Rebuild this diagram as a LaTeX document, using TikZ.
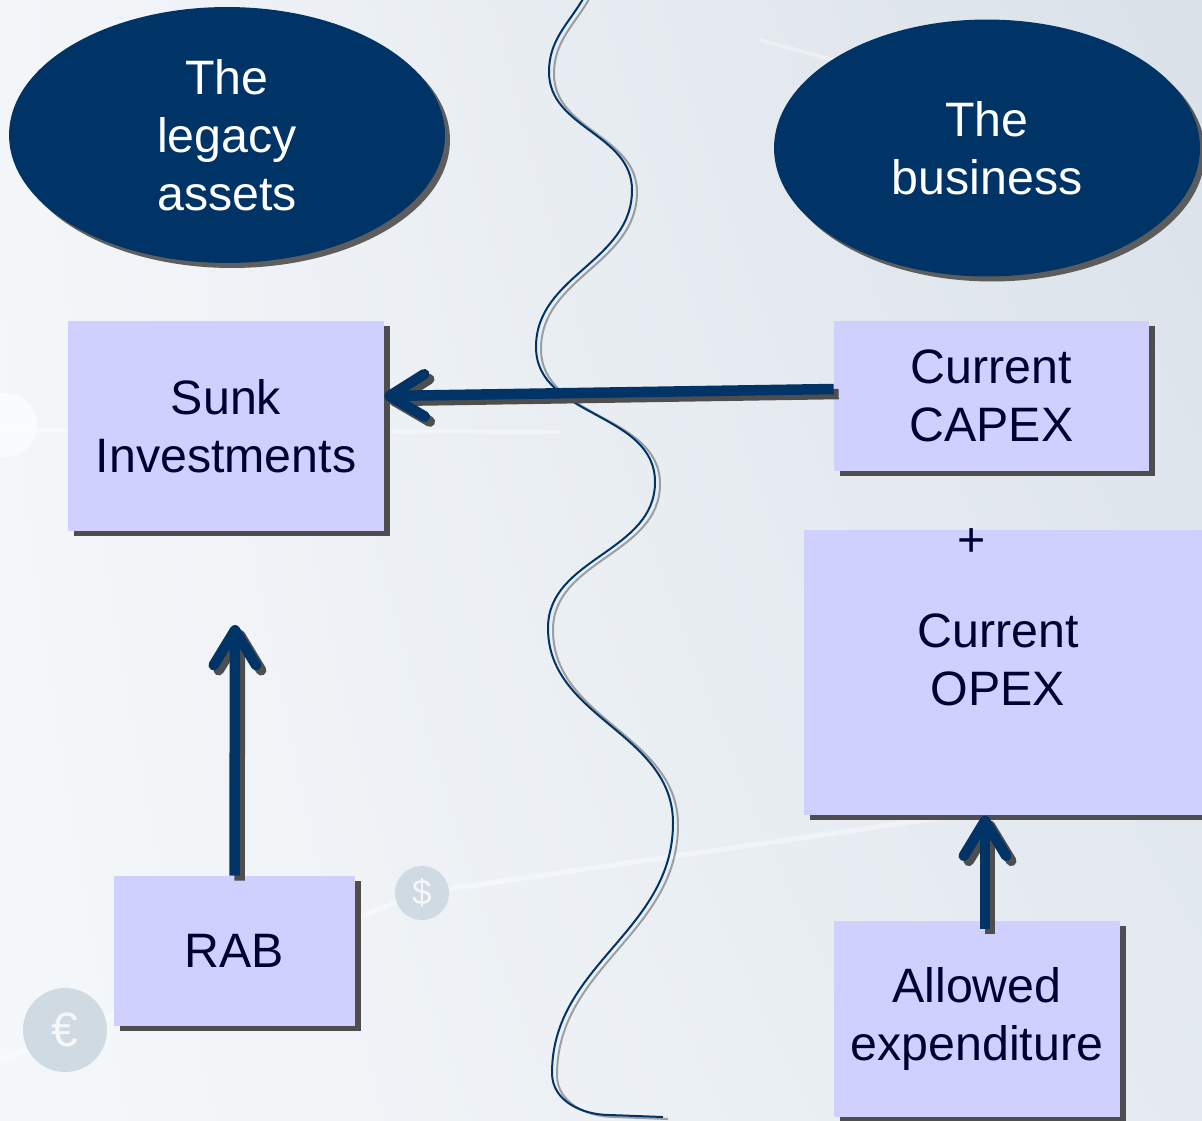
\documentclass[tikz,border=0pt]{standalone}
\usepackage{fontspec}
\setmainfont{Liberation Sans}
\usetikzlibrary{shapes.geometric, shadows, shadings, arrows.meta, calc}

\definecolor{navy}{RGB}{0,51,102}
\definecolor{lavender}{RGB}{208,208,255}
\definecolor{inktext}{RGB}{0,0,51}
\definecolor{shadegray}{RGB}{78,78,78}
\definecolor{bgA}{RGB}{243,246,249}
\definecolor{bgB}{RGB}{218,225,233}
\definecolor{bgC}{RGB}{245,248,250}
\definecolor{bgD}{RGB}{228,234,240}
\definecolor{coin}{RGB}{208,218,226}

\begin{document}
\begin{tikzpicture}[
			x=0.02cm, y=-0.02cm,
			every node/.style={font=\fontsize{27.5}{33}\selectfont, align=center},
			bubble/.style={ellipse, fill=navy, text=white, inner sep=0pt,
				drop shadow={shadow xshift=0.1cm, shadow yshift=-0.1cm, fill=shadegray, opacity=0.9}},
			box/.style={rectangle, fill=lavender, text=inktext, inner sep=0pt,
				drop shadow={shadow xshift=0.12cm, shadow yshift=-0.1cm, fill=shadegray, opacity=1}},
			flow/.style={draw=navy, line width=0.21cm,
				-{Straight Barb[round, length=0.7cm, width=0.85cm]}},
			flowshade/.style={flow, draw=shadegray,
				transform canvas={shift={(0.1cm,-0.1cm)}}},
			divider/.style={line width=0.04cm}
			]
			\useasboundingbox (0,0) rectangle (1202,1120);
			\clip (0,0) rectangle (1202,1120);

			% background
			\shade[upper left=bgA, upper right=bgB, lower left=bgC, lower right=bgD] (0,0) rectangle (1202,1120);
			\draw[white, line width=0.08cm, opacity=0.35] (0,430) -- (560,432);
			\draw[white, line width=0.1cm, opacity=0.4] (0,1060) -- (420,893) -- (1202,780);
			\draw[white, line width=0.08cm, opacity=0.35] (760,40) -- (1202,160);
			\fill[white, opacity=0.6] (5,425) circle (32);
			\fill[coin] (65,1030) circle (42);
			\node[text=white, opacity=0.8] (euro) at (65,1030) {€};
			\fill[coin] (422,893) circle (27);
			\node[text=white, opacity=0.8, font=\fontsize{20}{24}\selectfont] (dollar) at (422,893) {\$};

			% dividing line
			\draw[divider, shadegray, opacity=0.5, xshift=0.1cm, yshift=-0.04cm]
				(592,-20) to[out=250,in=90] (549,72) to[out=270,in=90] (632,190)
				to[out=270,in=90] (536,347) to[out=270,in=90] (655,482)
				to[out=270,in=90] (548,628) to[out=270,in=90] (673,823)
				to[out=270,in=90] (552,1073) to[out=270,in=180] (610,1115) -- (663,1117);
			\draw[divider, navy]
				(592,-20) to[out=250,in=90] (549,72) to[out=270,in=90] (632,190)
				to[out=270,in=90] (536,347) to[out=270,in=90] (655,482)
				to[out=270,in=90] (548,628) to[out=270,in=90] (673,823)
				to[out=270,in=90] (552,1073) to[out=270,in=180] (610,1115) -- (663,1117);

			% the two sides
			\node[bubble, minimum width=8.72cm, minimum height=5.12cm] (legacy) at (227,135) {The\\legacy\\assets};
			\node[bubble, minimum width=8.52cm, minimum height=5.14cm] (business) at (987,148) {The\\business};

			\node[box, minimum width=6.32cm, minimum height=4.2cm] (sunk) at (226,426) {Sunk\\Investments};
			\node[box, minimum width=4.82cm, minimum height=3cm] (rab) at (234.5,951) {RAB};
			\node[box, minimum width=6.3cm, minimum height=3cm] (capex) at (991.5,396) {Current\\CAPEX};
			\node[box, minimum width=8.3cm, minimum height=5.7cm, anchor=north west] (opex) at (804,530) {};
			\node[text=inktext] (plus) at (972,543) {+};
			\node[text=inktext] (opextext) at (998,660) {Current\\OPEX};
			\node[box, minimum width=5.72cm, minimum height=3.92cm] (allowed) at (977,1019) {Allowed\\expenditure};

			% arrows, shadow first
			\coordinate (raisetip) at (235,625);
			\coordinate (spendfoot) at ($(allowed.north)+(8,8)$);
			\draw[flowshade] ($(capex.west)+(0,-7)$) -- ($(sunk.east)+(0,-30)$);
			\draw[flowshade] (rab.north) -- (raisetip);
			\draw[flowshade] (spendfoot) -- (spendfoot |- opex.south);
			\draw[flow] ($(capex.west)+(0,-7)$) -- ($(sunk.east)+(0,-30)$);
			\draw[flow] (rab.north) -- (raisetip);
			\draw[flow] (spendfoot) -- (spendfoot |- opex.south);
		\end{tikzpicture}
\end{document}
